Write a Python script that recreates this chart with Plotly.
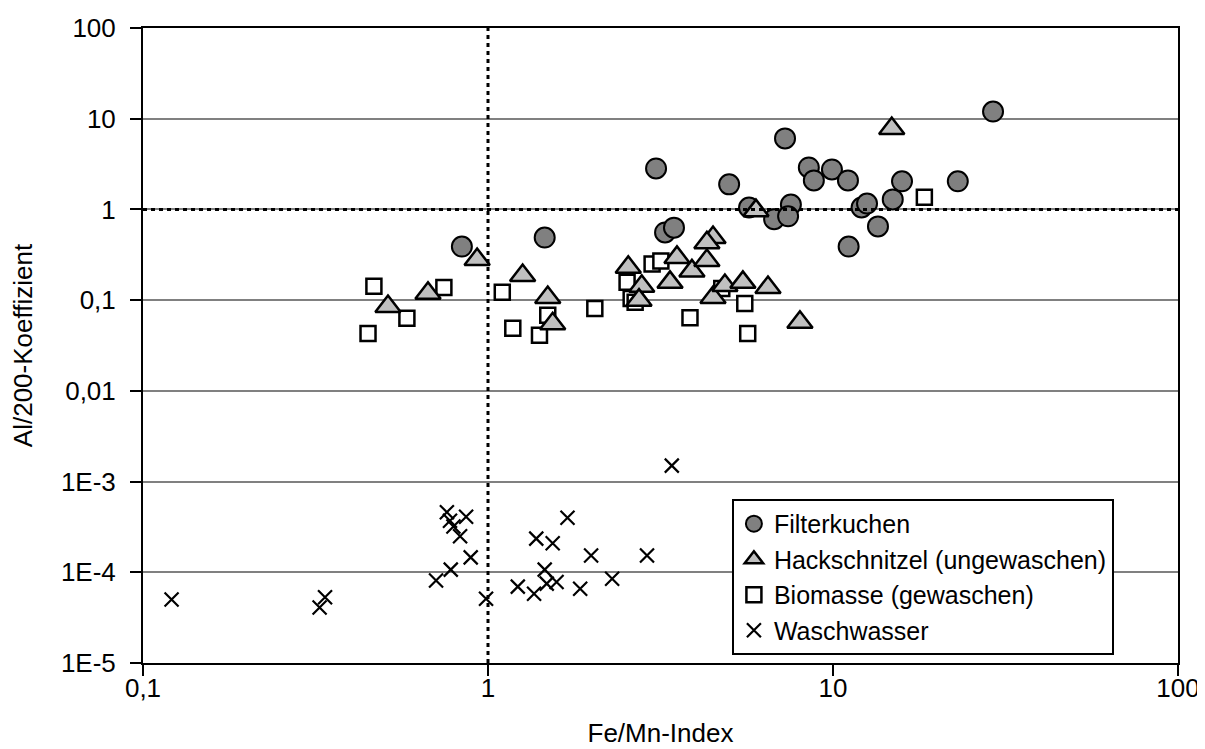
import plotly.graph_objects as go

# Filterkuchen
fk_x = [0.84, 1.46, 3.07, 3.26, 3.46, 5.0, 7.26, 8.51, 8.8, 9.93, 11.05, 5.71, 6.75, 7.55, 7.41, 12.1, 12.55, 13.5, 11.1, 14.9, 15.85, 23.0, 29.1]
fk_y = [0.39, 0.49, 2.83, 0.557, 0.63, 1.89, 6.07, 2.9, 2.09, 2.76, 2.09, 1.05, 0.78, 1.13, 0.84, 1.05, 1.16, 0.65, 0.39, 1.29, 2.04, 2.04, 12.0]

# Hackschnitzel (ungewaschen)
hs_x = [0.513, 0.67, 0.93, 1.26, 1.49, 1.54, 2.55, 2.79, 2.74, 3.37, 3.53, 3.9, 4.31, 4.49, 4.31, 4.49, 4.86, 5.48, 6.48, 8.02, 5.98, 14.8]
hs_y = [0.085, 0.119, 0.28, 0.187, 0.107, 0.055, 0.23, 0.142, 0.10, 0.157, 0.296, 0.21, 0.274, 0.49, 0.43, 0.107, 0.145, 0.157, 0.138, 0.057, 0.97, 7.8]

# Biomasse (gewaschen)
bm_x = [0.449, 0.467, 0.582, 0.745, 1.10, 1.18, 1.41, 1.49, 2.04, 2.53, 2.60, 2.67, 2.99, 3.17, 3.85, 4.76, 5.55, 5.66, 18.4]
bm_y = [0.043, 0.142, 0.063, 0.138, 0.122, 0.049, 0.041, 0.068, 0.081, 0.157, 0.104, 0.095, 0.25, 0.27, 0.064, 0.134, 0.092, 0.043, 1.36]

# Waschwasser
ww_x = [0.121, 0.325, 0.337, 0.707, 0.78, 0.76, 0.776, 0.794, 0.864, 0.83, 0.891, 0.987, 1.22, 1.36, 1.38, 1.46, 1.48, 1.58, 1.54, 1.70, 1.85, 1.99, 2.29, 2.89, 3.41]
ww_y = [5.0e-5, 4.1e-5, 5.3e-5, 8.1e-5, 1.07e-4, 4.6e-4, 3.7e-4, 3.2e-4, 4.1e-4, 2.5e-4, 1.46e-4, 5.1e-5, 6.95e-5, 5.8e-5, 2.35e-4, 1.07e-4, 7.5e-5, 7.8e-5, 2.09e-4, 4.0e-4, 6.6e-5, 1.53e-4, 8.5e-5, 1.53e-4, 1.5e-3]

x_tickvals = [0.1, 1, 10, 100]
x_ticktext = ["0,1", "1", "10", "100"]
y_tickvals = [1e-5, 1e-4, 1e-3, 0.01, 0.1, 1, 10, 100]
y_ticktext = ["1E-5", "1E-4", "1E-3", "0,01", "0,1", "1", "10", "100"]

FONT = "Liberation Sans, Arial, sans-serif"
FS = 26
LFS = 25

fig = go.Figure()

fig.add_trace(go.Scatter(
    x=bm_x, y=bm_y, mode="markers", name="Biomasse (gewaschen)", legendrank=3,
    marker=dict(symbol="square", size=15, color="white", line=dict(color="black", width=2.5)),
))
fig.add_trace(go.Scatter(
    x=fk_x, y=fk_y, mode="markers", name="Filterkuchen", legendrank=1,
    marker=dict(symbol="circle", size=20, color="#808080", line=dict(color="black", width=2)),
))
fig.add_trace(go.Scatter(
    x=hs_x, y=hs_y, mode="markers", name="Hackschnitzel (ungewaschen)", legendrank=2,
    marker=dict(symbol="triangle-up", size=22, color="#C0C0C0", line=dict(color="black", width=2.5)),
))
fig.add_trace(go.Scatter(
    x=ww_x, y=ww_y, mode="markers", name="Waschwasser", legendrank=4,
    marker=dict(symbol="x-thin-open", size=14, color="black", line=dict(color="black", width=2.2)),
))

# reference lines
fig.add_shape(type="line", xref="x", yref="y", x0=1, x1=1, y0=1e-5, y1=100,
              line=dict(color="black", width=3, dash="4px,4px"))
fig.add_shape(type="line", xref="x", yref="y", x0=0.1, x1=100, y0=1, y1=1,
              line=dict(color="black", width=3, dash="4px,4px"))

# page has an 8px body margin, so the figure is 8px smaller and margins shifted
fig.update_layout(
    width=1197, height=741,
    margin=dict(l=135, r=27, t=20, b=86, autoexpand=False),
    paper_bgcolor="white", plot_bgcolor="white",
    font=dict(family=FONT, size=FS, color="black"),
    showlegend=True,
    legend=dict(
        x=0.569, y=0.2583, xanchor="left", yanchor="top",
        bgcolor="white", bordercolor="black", borderwidth=2,
        font=dict(family=FONT, size=LFS, color="black"),
        traceorder="normal",
    ),
    xaxis=dict(
        type="log", range=[-1, 2], automargin=False,
        tickvals=x_tickvals, ticktext=x_ticktext,
        ticks="outside", ticklen=11, tickwidth=2, tickcolor="black",
        tickfont=dict(size=FS), ticklabelstandoff=-10,
        showgrid=False, zeroline=False,
        showline=True, linecolor="black", linewidth=2, mirror=True,
        title=dict(text="Fe/Mn-Index", standoff=22, font=dict(size=FS)),
    ),
    yaxis=dict(
        type="log", range=[-5, 2], automargin=False,
        tickvals=y_tickvals, ticktext=y_ticktext,
        ticks="outside", ticklen=11, tickwidth=2, tickcolor="black",
        tickfont=dict(size=FS), ticklabelstandoff=9,
        showgrid=True, gridcolor="#808080", gridwidth=1.5,
        zeroline=False,
        showline=True, linecolor="black", linewidth=2, mirror=True,
        title=dict(text="Al/200-Koeffizient", standoff=22, font=dict(size=FS)),
    ),
)

fig.write_html("out.html")
